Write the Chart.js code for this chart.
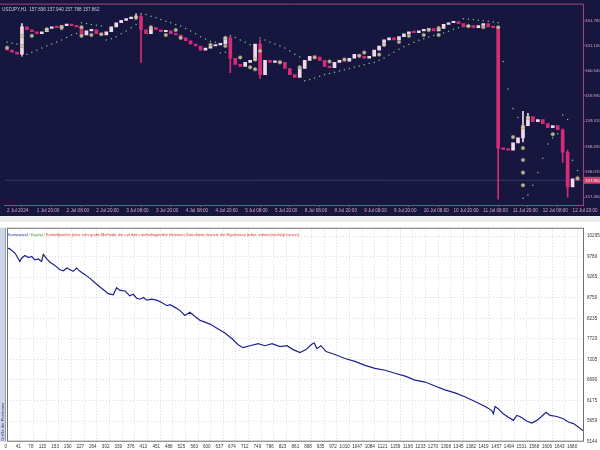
<!DOCTYPE html>
<html>
<head>
<meta charset="utf-8">
<script src="https://cdn.jsdelivr.net/npm/chart.js@4.4.1/dist/chart.umd.min.js"></script>
<style>
  html, body { margin:0; padding:0; background:#ececec; }
  #wrap { position:relative; width:600px; height:450px; overflow:hidden; }
  canvas { position:absolute; left:0; }
  #price { top:0; }
  #balance { top:222px; }
</style>
</head>
<body>
<div id="wrap">
  <canvas id="price" width="600" height="216" style="width:600px;height:216px"></canvas>
  <canvas id="balance" width="600" height="228" style="width:600px;height:228px"></canvas>
</div>
<script>
// USDJPY H1 strategy tester view: price chart (top) + balance curve (bottom)

// ---- top panel data (one candle = 2 hours) ----
const symbolName   = 'USDJPY,H1';
const headerValues = [157.836, 157.940, 157.788, 157.862];
const lastPrice    = 157.862;

const timeLabels = ['2 Jul 2024','1 Jul 20:00','2 Jul 08:00','2 Jul 20:00','3 Jul 08:00','3 Jul 20:00',
    '4 Jul 08:00','4 Jul 20:00','5 Jul 08:00','5 Jul 20:00','8 Jul 08:00','8 Jul 20:00','9 Jul 08:00',
    '9 Jul 20:00','10 Jul 08:00','10 Jul 20:00','11 Jul 08:00','11 Jul 20:00','12 Jul 08:00','12 Jul 20:00'];
const timeTickBars = [0,6,12,18,24,30,36,42,48,54,60,66,72,78,84,90,96,102,108,114];
const priceTicks = [157.450, 158.070, 158.690, 159.310, 159.930, 160.540, 161.160, 161.780];

const opens = [
    161.08,161.05,161.00,160.95,161.62,161.55,161.50,161.45,161.50,161.58,
    161.62,161.60,161.65,161.68,161.65,161.62,161.42,161.52,161.55,161.45,
    161.42,161.50,161.62,161.72,161.78,161.82,161.85,161.88,161.55,161.45,
    161.60,161.55,161.50,161.52,161.45,161.42,161.35,161.28,161.20,161.15,
    161.05,161.10,161.15,161.18,161.20,161.35,160.85,160.70,160.65,160.75,
    160.80,161.20,160.45,160.80,160.75,160.78,160.75,160.60,160.45,160.38,
    160.60,160.80,160.90,160.88,160.80,160.65,160.62,160.75,160.80,160.78,
    160.85,160.95,160.90,160.85,160.90,161.05,161.15,161.30,161.35,161.30,
    161.38,161.45,161.50,161.48,161.52,161.55,161.58,161.52,161.58,161.68,
    161.72,161.75,161.70,161.62,161.65,161.60,161.65,161.70,161.62,161.60,
    158.65,158.62,158.60,158.78,158.90,159.20,159.42,159.30,159.35,159.25,
    159.15,159.20,159.10,158.55,157.70,157.90
];
const closes = [
    161.05,161.00,160.95,161.62,161.55,161.50,161.45,161.50,161.58,161.62,
    161.60,161.65,161.68,161.65,161.62,161.42,161.52,161.55,161.45,161.42,
    161.50,161.62,161.72,161.78,161.82,161.85,161.88,161.55,161.45,161.60,
    161.55,161.50,161.52,161.45,161.42,161.35,161.28,161.20,161.15,161.05,
    161.10,161.15,161.18,161.20,161.35,160.85,160.70,160.65,160.75,160.80,
    161.20,160.45,160.80,160.75,160.78,160.75,160.60,160.45,160.38,160.60,
    160.80,160.90,160.88,160.80,160.65,160.62,160.75,160.80,160.78,160.85,
    160.95,160.90,160.85,160.90,161.05,161.15,161.30,161.35,161.30,161.38,
    161.45,161.50,161.48,161.52,161.55,161.58,161.52,161.58,161.68,161.72,
    161.75,161.70,161.62,161.65,161.60,161.65,161.70,161.62,161.60,158.65,
    158.62,158.60,158.78,158.90,159.20,159.42,159.30,159.35,159.25,159.15,
    159.20,159.10,158.55,157.70,157.90,157.86
];

// visible long shadows only
const wickBars  = [3, 26, 27, 45, 51, 99, 104, 105, 112, 113];
const wickLows  = [160.92, 161.80, 160.75, 160.50, 160.35, 157.40, 158.80, 159.20, 158.30, 157.45];
const wickHighs = [161.70, 161.94, 161.92, 161.38, 161.30, 161.62, 159.55, 159.50, 159.12, 158.60];

// parabolic SAR dots
const sar = [
    161.25,161.22,161.20,160.90,160.95,161.00,161.05,161.10,161.15,161.20,
    161.25,161.30,161.36,161.42,161.46,161.72,161.70,161.68,161.66,161.64,
    161.30,161.33,161.38,161.45,161.52,161.60,161.68,161.95,161.92,161.88,
    161.84,161.80,161.76,161.72,161.68,161.64,161.58,161.52,161.45,161.38,
    161.32,161.27,161.24,160.98,161.00,161.40,161.36,161.30,161.24,161.18,
    160.60,161.35,161.30,161.25,161.20,161.15,161.10,161.03,160.95,160.88,
    160.30,160.33,160.37,160.41,160.45,160.48,160.51,160.54,160.57,160.60,
    160.63,160.66,160.69,160.72,160.75,160.80,160.86,160.93,161.00,161.07,
    161.13,161.19,161.24,161.29,161.33,161.37,161.41,161.44,161.47,161.51,
    161.56,161.60,161.82,161.81,161.80,161.78,161.77,161.76,161.74,161.72,
    160.77,160.10,159.62,159.40,157.42,157.50,157.74,158.05,158.40,158.75,
    158.90,159.00,159.46,159.35,158.35,158.10
];

// trade markers
const orderBars = [0,3,3,5,8,11,15,15,17,19,26,29,32,34,35,41,44,44,47,49,50,50,51,55,59,
    62,65,68,71,72,75,76,79,81,84,85,87,87,93,96,99,102,104,104,104,104,104,105,110,115];
const orderPrices = [161.11,161.40,161.15,161.40,161.56,161.59,161.61,161.40,161.42,161.44,
    161.85,161.61,161.42,161.54,161.35,161.18,161.35,161.15,160.87,160.63,160.82,160.58,161.03,160.75,160.63,
    160.87,160.77,160.82,160.91,160.99,160.94,161.18,161.25,161.40,161.42,161.54,161.42,161.59,161.64,161.61,
    161.61,158.92,159.16,158.65,158.36,158.05,157.74,159.40,158.99,157.91];

// ---- bottom panel data ----
const tradeIdx = [0,9,24,38,43,53,63,73,82,92,102,107,117,127,141,156,166,176,186,195,
    205,215,230,245,259,274,289,298,313,323,333,348,362,372,382,392,402,412,426,441,
    456,471,480,495,510,524,539,554,569,583,598,622,642,663,681,695,716,740,760,781,
    804,825,843,863,881,896,905,913,925,940,966,996,1025,1055,1084,1114,1143,1173,1202,1232,
    1261,1290,1320,1349,1374,1394,1413,1428,1433,1438,1448,1462,1477,1492,1502,1511,1531,1546,1561,1575,
    1588,1600,1620,1639,1654,1669,1683,1698];
const balance = [10000,9968,9862,9657,9739,9805,9756,9781,9697,9721,9657,9837,9721,9640,9559,9451,9426,9493,9451,9411,
    9493,9411,9328,9229,9123,9018,8919,8853,8821,9000,8934,8919,8796,8836,8737,8712,8754,8688,8712,8688,
    8631,8550,8575,8508,8427,8304,8385,8279,8181,8139,8090,7967,7868,7721,7573,7499,7548,7598,7548,7598,
    7524,7548,7450,7376,7450,7573,7622,7475,7548,7401,7327,7228,7155,7056,6982,6933,6859,6785,6687,6638,
    6539,6441,6367,6269,6170,6089,6005,5924,5843,6023,5966,5843,5759,5678,5801,5776,5661,5612,5678,5776,
    5882,5801,5776,5720,5636,5597,5513,5415];
const tradeTicks = [0,41,78,115,153,190,227,264,302,339,376,413,451,488,525,563,600,637,674,712,749,786,823,861,
    898,935,972,1010,1047,1084,1121,1159,1196,1233,1270,1308,1345,1382,1419,1457,1494,1531,1568,1606,1643,1680];
const balanceTicks = [5144,5659,6175,6690,7205,7720,8235,8750,9265,9780,10295];

const legendParts = [
    ['Kontostand', '#2b2ba6'], [' / ', '#808080'], ['Kapital', '#2fa032'], [' / ', '#808080'],
    ['Kontrollpunkte (eine sehr grobe Methode, die auf dem nächstliegenden kleineren Zeitrahmen basiert; die Ergebnisse lieber unberücksichtigt lassen)', '#e0302c']
];
const sideText = 'Größe der Positionen';

// ---- styling ----
const FONT  = 'Liberation Sans';
const NAVY  = '#16163f';
const PINK  = '#a4457a';
const LABEL = '#d2a6c0';
const BULL  = '#f2d9e8';
const BEAR  = '#d42c78';

Chart.defaults.font.family = FONT;

const candleColor = i => closes[i] >= opens[i] ? BULL : BEAR;

// ─── Top: price chart ─────────────────────────────
const priceDecor = {
    id: 'priceDecor',
    beforeDraw(chart) {
        const ctx = chart.ctx;
        ctx.save();
        ctx.fillStyle = NAVY;
        ctx.fillRect(0, 0, chart.width, chart.height);
        ctx.restore();
    },
    afterDraw(chart) {
        const { ctx, chartArea } = chart;
        const y = chart.scales.y.getPixelForValue(lastPrice);
        ctx.save();
        // top frame line
        ctx.strokeStyle = PINK;
        ctx.lineWidth = 1;
        ctx.beginPath();
        ctx.moveTo(0, chartArea.top - 0.5);
        ctx.lineTo(chartArea.right, chartArea.top - 0.5);
        ctx.stroke();
        // current price box
        ctx.fillStyle = '#c8416f';
        ctx.fillRect(chartArea.right + 1, y - 3.5, 16, 7);
        ctx.fillStyle = '#ffe8f0';
        ctx.font = '4.4px ' + FONT;
        ctx.textBaseline = 'middle';
        ctx.fillText(lastPrice.toFixed(3), chartArea.right + 2, y);
        // symbol header
        ctx.fillStyle = '#c9c9d9';
        ctx.font = '4.6px ' + FONT;
        ctx.fillText(symbolName + '  ' + headerValues.map(v => v.toFixed(3)).join(' '), 2, chartArea.top + 5.5);
        ctx.restore();
    }
};

new Chart(document.getElementById('price'), {
    type: 'bar',
    data: {
        datasets: [
            {
                type: 'line', label: 'orders',
                data: orderBars.map((b, i) => ({ x: b, y: orderPrices[i] })),
                showLine: false, pointRadius: 1.8,
                pointBackgroundColor: 'rgba(214,212,168,0.85)', pointBorderColor: '#8f8f66', pointBorderWidth: 0.6,
                order: 0
            },
            {
                type: 'line', label: 'sar',
                data: sar.map((v, i) => ({ x: i, y: v })),
                showLine: false, pointRadius: 0.75, pointBorderWidth: 0,
                pointBackgroundColor: '#6bcf86',
                order: 1
            },
            {
                label: 'body',
                data: closes.map((c, i) => ({ x: i, y: [opens[i], c] })),
                backgroundColor: closes.map((c, i) => candleColor(i)),
                barThickness: 3, minBarLength: 1.5, grouped: false,
                order: 2
            },
            {
                label: 'wick',
                data: wickBars.map((b, i) => ({ x: b, y: [wickLows[i], wickHighs[i]] })),
                backgroundColor: wickBars.map(b => candleColor(b)),
                barThickness: 1, grouped: false,
                order: 3
            },
            {
                type: 'line', label: 'bid',
                data: [{ x: -0.5, y: lastPrice }, { x: 116.1, y: lastPrice }],
                borderColor: 'rgba(140,140,190,0.3)', borderWidth: 1, pointRadius: 0,
                order: 4
            }
        ]
    },
    options: {
        responsive: false,
        animation: false,
        layout: { padding: { top: 1, left: 0, right: 0, bottom: 0 } },
        plugins: { legend: { display: false }, tooltip: { enabled: false } },
        scales: {
            x: {
                type: 'linear', min: -0.5, max: 116.1, offset: false,
                afterBuildTicks: s => { s.ticks = timeTickBars.map(v => ({ value: v })); },
                afterFit: s => { s.height = 11; },
                grid: { drawOnChartArea: false, tickLength: 2, color: PINK },
                border: { color: PINK, width: 1 },
                ticks: {
                    autoSkip: false, maxRotation: 0, align: 'start', padding: 1,
                    color: LABEL, font: { size: 4.6 },
                    callback: (v, idx) => timeLabels[idx]
                }
            },
            y: {
                position: 'right', min: 157.257, max: 162.165,
                afterBuildTicks: s => { s.ticks = priceTicks.map(v => ({ value: v })); },
                afterFit: s => { s.width = 17; },
                grid: { drawOnChartArea: false, tickLength: 2, color: PINK },
                border: { color: PINK, width: 1 },
                ticks: { padding: 0, color: LABEL, font: { size: 4.4 }, callback: v => v.toFixed(3) }
            }
        }
    },
    plugins: [priceDecor]
});

// ─── Bottom: balance chart ────────────────────────
const balanceDecor = {
    id: 'balanceDecor',
    beforeDraw(chart) {
        const { ctx, chartArea } = chart;
        ctx.save();
        ctx.fillStyle = '#ffffff';
        ctx.fillRect(0, 0, chart.width, chart.height);
        // side strip
        ctx.fillStyle = '#cdd6e6';
        ctx.fillRect(0, chartArea.top, 5, chartArea.bottom - chartArea.top);
        ctx.strokeStyle = '#8f9bb3';
        ctx.beginPath();
        ctx.moveTo(5.5, chartArea.top);
        ctx.lineTo(5.5, chartArea.bottom);
        ctx.stroke();
        ctx.translate(3.8, chartArea.bottom - 1);
        ctx.rotate(-Math.PI / 2);
        ctx.fillStyle = '#2c3a66';
        ctx.font = '4px ' + FONT;
        ctx.fillText(sideText, 0, 0);
        ctx.restore();
    },
    afterDraw(chart) {
        const { ctx, chartArea } = chart;
        ctx.save();
        ctx.strokeStyle = '#6f6f6f';
        ctx.lineWidth = 1;
        ctx.setLineDash([]);
        ctx.strokeRect(chartArea.left + 0.5, chartArea.top + 0.5,
            chartArea.right - chartArea.left - 1, chartArea.bottom - chartArea.top - 1);
        // legend line, fitted to its width in the picture
        ctx.font = '10px ' + FONT;
        const full = legendParts.reduce((w, p) => w + ctx.measureText(p[0]).width, 0);
        const size = 10 * 292 / full;
        ctx.font = size + 'px ' + FONT;
        ctx.textBaseline = 'middle';
        let x = chartArea.left + 1;
        legendParts.forEach(([txt, col]) => {
            ctx.fillStyle = col;
            ctx.fillText(txt, x, chartArea.top + 7);
            x += ctx.measureText(txt).width;
        });
        ctx.restore();
    }
};

new Chart(document.getElementById('balance'), {
    type: 'line',
    data: {
        datasets: [{
            data: tradeIdx.map((t, i) => ({ x: t, y: balance[i] })),
            borderColor: '#20208e', borderWidth: 1.2, pointRadius: 0, tension: 0
        }]
    },
    options: {
        responsive: false,
        animation: false,
        layout: { padding: { top: 2, left: 7, right: 0, bottom: 0 } },
        plugins: { legend: { display: false }, tooltip: { enabled: false } },
        scales: {
            x: {
                type: 'linear', min: 0, max: 1700,
                afterBuildTicks: s => { s.ticks = tradeTicks.map(v => ({ value: v })); },
                afterFit: s => { s.height = 8.3; },
                grid: { color: '#d9d9d9', drawTicks: false },
                border: { display: false, dash: [1, 2] },
                ticks: {
                    autoSkip: false, maxRotation: 0, align: 'end', padding: 2,
                    color: '#333333', font: { size: 4.6 }, callback: v => String(v)
                }
            },
            y: {
                position: 'right', min: 5144, max: 10502,
                afterBuildTicks: s => { s.ticks = balanceTicks.map(v => ({ value: v })); },
                afterFit: s => { s.width = 16; },
                grid: { color: '#d9d9d9', drawTicks: false },
                border: { display: false, dash: [1, 2] },
                ticks: { padding: 3, color: '#333333', font: { size: 4.6 }, callback: v => String(v) }
            }
        }
    },
    plugins: [balanceDecor]
});
</script>
</body>
</html>
